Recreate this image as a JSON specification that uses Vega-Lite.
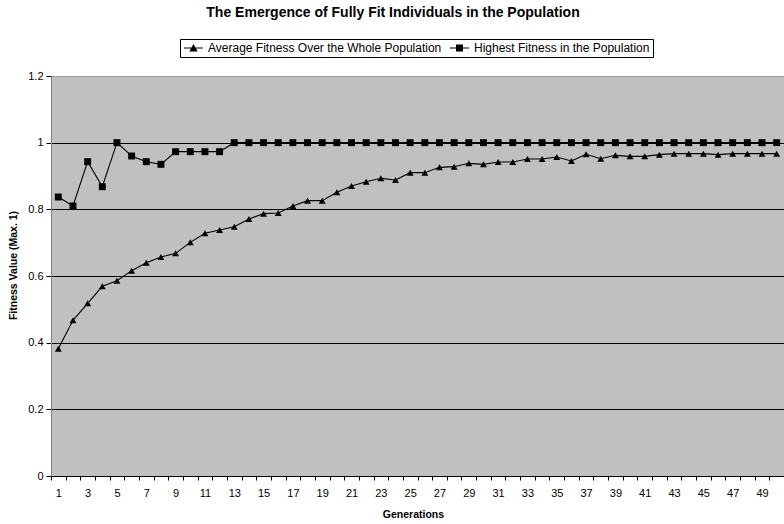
{
  "$schema": "https://vega.github.io/schema/vega-lite/v6.json",
  "autosize": {"type": "none"},
  "padding": {"left": 51, "top": 76, "right": 0, "bottom": 48},
  "width": 733,
  "height": 400,
  "background": "white",
  "title": {
    "text": "The Emergence of Fully Fit Individuals in the Population",
    "font": "Liberation Sans",
    "fontSize": 14,
    "fontWeight": "bold",
    "color": "black",
    "anchor": "middle",
    "frame": "group",
    "dx": -24.5,
    "dy": -15
  },
  "data": {
    "values": [
      {"Generation": 1, "Average Fitness Over the Whole Population": 0.382, "Highest Fitness in the Population": 0.837},
      {"Generation": 2, "Average Fitness Over the Whole Population": 0.467, "Highest Fitness in the Population": 0.81},
      {"Generation": 3, "Average Fitness Over the Whole Population": 0.518, "Highest Fitness in the Population": 0.943},
      {"Generation": 4, "Average Fitness Over the Whole Population": 0.569, "Highest Fitness in the Population": 0.868},
      {"Generation": 5, "Average Fitness Over the Whole Population": 0.586, "Highest Fitness in the Population": 1.0},
      {"Generation": 6, "Average Fitness Over the Whole Population": 0.616, "Highest Fitness in the Population": 0.96},
      {"Generation": 7, "Average Fitness Over the Whole Population": 0.64, "Highest Fitness in the Population": 0.943},
      {"Generation": 8, "Average Fitness Over the Whole Population": 0.657, "Highest Fitness in the Population": 0.935},
      {"Generation": 9, "Average Fitness Over the Whole Population": 0.668, "Highest Fitness in the Population": 0.973},
      {"Generation": 10, "Average Fitness Over the Whole Population": 0.701, "Highest Fitness in the Population": 0.973},
      {"Generation": 11, "Average Fitness Over the Whole Population": 0.728, "Highest Fitness in the Population": 0.973},
      {"Generation": 12, "Average Fitness Over the Whole Population": 0.738, "Highest Fitness in the Population": 0.973},
      {"Generation": 13, "Average Fitness Over the Whole Population": 0.748, "Highest Fitness in the Population": 1.0},
      {"Generation": 14, "Average Fitness Over the Whole Population": 0.771, "Highest Fitness in the Population": 1.0},
      {"Generation": 15, "Average Fitness Over the Whole Population": 0.787, "Highest Fitness in the Population": 1.0},
      {"Generation": 16, "Average Fitness Over the Whole Population": 0.789, "Highest Fitness in the Population": 1.0},
      {"Generation": 17, "Average Fitness Over the Whole Population": 0.81, "Highest Fitness in the Population": 1.0},
      {"Generation": 18, "Average Fitness Over the Whole Population": 0.826, "Highest Fitness in the Population": 1.0},
      {"Generation": 19, "Average Fitness Over the Whole Population": 0.826, "Highest Fitness in the Population": 1.0},
      {"Generation": 20, "Average Fitness Over the Whole Population": 0.851, "Highest Fitness in the Population": 1.0},
      {"Generation": 21, "Average Fitness Over the Whole Population": 0.87, "Highest Fitness in the Population": 1.0},
      {"Generation": 22, "Average Fitness Over the Whole Population": 0.883, "Highest Fitness in the Population": 1.0},
      {"Generation": 23, "Average Fitness Over the Whole Population": 0.893, "Highest Fitness in the Population": 1.0},
      {"Generation": 24, "Average Fitness Over the Whole Population": 0.888, "Highest Fitness in the Population": 1.0},
      {"Generation": 25, "Average Fitness Over the Whole Population": 0.91, "Highest Fitness in the Population": 1.0},
      {"Generation": 26, "Average Fitness Over the Whole Population": 0.91, "Highest Fitness in the Population": 1.0},
      {"Generation": 27, "Average Fitness Over the Whole Population": 0.926, "Highest Fitness in the Population": 1.0},
      {"Generation": 28, "Average Fitness Over the Whole Population": 0.928, "Highest Fitness in the Population": 1.0},
      {"Generation": 29, "Average Fitness Over the Whole Population": 0.938, "Highest Fitness in the Population": 1.0},
      {"Generation": 30, "Average Fitness Over the Whole Population": 0.935, "Highest Fitness in the Population": 1.0},
      {"Generation": 31, "Average Fitness Over the Whole Population": 0.942, "Highest Fitness in the Population": 1.0},
      {"Generation": 32, "Average Fitness Over the Whole Population": 0.942, "Highest Fitness in the Population": 1.0},
      {"Generation": 33, "Average Fitness Over the Whole Population": 0.951, "Highest Fitness in the Population": 1.0},
      {"Generation": 34, "Average Fitness Over the Whole Population": 0.951, "Highest Fitness in the Population": 1.0},
      {"Generation": 35, "Average Fitness Over the Whole Population": 0.957, "Highest Fitness in the Population": 1.0},
      {"Generation": 36, "Average Fitness Over the Whole Population": 0.945, "Highest Fitness in the Population": 1.0},
      {"Generation": 37, "Average Fitness Over the Whole Population": 0.965, "Highest Fitness in the Population": 1.0},
      {"Generation": 38, "Average Fitness Over the Whole Population": 0.952, "Highest Fitness in the Population": 1.0},
      {"Generation": 39, "Average Fitness Over the Whole Population": 0.962, "Highest Fitness in the Population": 1.0},
      {"Generation": 40, "Average Fitness Over the Whole Population": 0.959, "Highest Fitness in the Population": 1.0},
      {"Generation": 41, "Average Fitness Over the Whole Population": 0.959, "Highest Fitness in the Population": 1.0},
      {"Generation": 42, "Average Fitness Over the Whole Population": 0.964, "Highest Fitness in the Population": 1.0},
      {"Generation": 43, "Average Fitness Over the Whole Population": 0.967, "Highest Fitness in the Population": 1.0},
      {"Generation": 44, "Average Fitness Over the Whole Population": 0.967, "Highest Fitness in the Population": 1.0},
      {"Generation": 45, "Average Fitness Over the Whole Population": 0.967, "Highest Fitness in the Population": 1.0},
      {"Generation": 46, "Average Fitness Over the Whole Population": 0.964, "Highest Fitness in the Population": 1.0},
      {"Generation": 47, "Average Fitness Over the Whole Population": 0.967, "Highest Fitness in the Population": 1.0},
      {"Generation": 48, "Average Fitness Over the Whole Population": 0.967, "Highest Fitness in the Population": 1.0},
      {"Generation": 49, "Average Fitness Over the Whole Population": 0.967, "Highest Fitness in the Population": 1.0},
      {"Generation": 50, "Average Fitness Over the Whole Population": 0.967, "Highest Fitness in the Population": 1.0}
    ]
  },
  "transform": [
    {"fold": ["Average Fitness Over the Whole Population", "Highest Fitness in the Population"], "as": ["Series", "Fitness"]}
  ],
  "encoding": {
    "x": {
      "field": "Generation",
      "type": "ordinal",
      "scale": {"type": "band", "paddingInner": 0, "paddingOuter": 0},
      "axis": {
        "tickBand": "extent",
        "labelExpr": "datum.value % 2 === 1 ? datum.label : ''",
        "labelAngle": 0,
        "labelOverlap": false,
        "labelFont": "Liberation Sans",
        "labelFontSize": 11,
        "labelColor": "black",
        "labelPadding": 7,
        "tickSize": 4,
        "tickColor": "black",
        "domainColor": "black",
        "grid": false,
        "title": "Generations",
        "titleFont": "Liberation Sans",
        "titleFontSize": 10.5,
        "titleFontWeight": "bold",
        "titleColor": "black",
        "titleX": 362,
        "titleY": 41.5,
        "titleBaseline": "alphabetic"
      }
    },
    "y": {
      "field": "Fitness",
      "type": "quantitative",
      "scale": {"domain": [0, 1.2], "nice": false},
      "axis": {
        "values": [0, 0.2, 0.4, 0.6, 0.8, 1, 1.2],
        "format": "~g",
        "grid": true,
        "gridColor": {"condition": {"test": "datum.value > 1.1", "value": "#9a9a9a"}, "value": "black"},
        "gridOpacity": 1,
        "gridWidth": 1,
        "domainColor": "#808080",
        "tickColor": "black",
        "tickSize": 5,
        "labelFont": "Liberation Sans",
        "labelFontSize": 11,
        "labelColor": "black",
        "labelPadding": 3,
        "title": "Fitness Value (Max. 1)",
        "titleFont": "Liberation Sans",
        "titleFontSize": 10.5,
        "titleFontWeight": "bold",
        "titleColor": "black",
        "titleX": -35,
        "titleY": 189,
        "titleBaseline": "alphabetic"
      }
    }
  },
  "layer": [
    {
      "mark": {"type": "line", "color": "black", "strokeWidth": 1.1},
      "encoding": {"detail": {"field": "Series"}}
    },
    {
      "mark": {"type": "point", "filled": true, "color": "black", "opacity": 1, "size": 48},
      "encoding": {
        "shape": {
          "field": "Series",
          "type": "nominal",
          "scale": {
            "domain": ["Average Fitness Over the Whole Population", "Highest Fitness in the Population"],
            "range": ["triangle-up", "square"]
          },
          "legend": null
        }
      }
    },
    {
      "transform": [{"filter": "datum.Generation > 50"}],
      "mark": {"type": "point", "filled": true, "color": "black", "opacity": 1},
      "encoding": {
        "shape": {
          "field": "Series",
          "type": "nominal",
          "scale": {
            "domain": ["Average Fitness Over the Whole Population", "Highest Fitness in the Population"],
            "range": [
              "M-1,-0.11H2.8V0.11H-1Z M0.9,-0.8L1.75,0.7L0.05,0.7Z",
              "M-1,-0.11H2.8V0.11H-1Z M0.2,-0.7H1.6V0.7H0.2Z"
            ]
          },
          "legend": {
            "title": null,
            "orient": "none",
            "legendX": 129,
            "legendY": -37,
            "direction": "horizontal",
            "strokeColor": "black",
            "padding": 3,
            "labelFont": "Liberation Sans",
            "labelFontSize": 12,
            "labelColor": "black",
            "labelLimit": 0,
            "labelOffset": 13,
            "columnPadding": 7,
            "symbolSize": 100,
            "symbolStrokeWidth": 0,
            "symbolFillColor": "black",
            "symbolOpacity": 1
          }
        }
      }
    }
  ],
  "resolve": {"scale": {"shape": "independent"}, "legend": {"shape": "independent"}},
  "config": {
    "font": "Liberation Sans",
    "view": {"fill": "#C0C0C0", "stroke": "#8c8c8c", "strokeWidth": 1}
  }
}
